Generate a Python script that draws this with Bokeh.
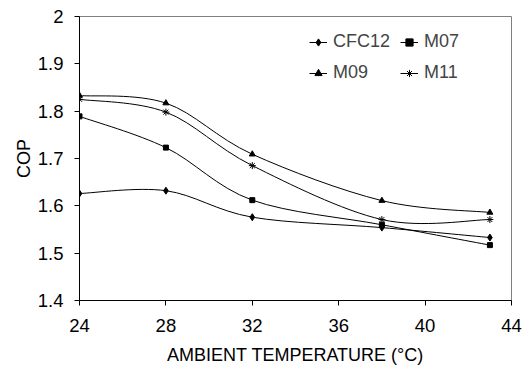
import numpy as np
from bokeh.plotting import figure
from bokeh.models import Legend, LegendItem, FixedTicker, Range1d
from bokeh.embed import file_html
from bokeh.resources import INLINE

# ---- data ----
temps = [24, 28, 32, 38, 43]
cfc12 = [1.626, 1.632, 1.576, 1.554, 1.533]
m07 = [1.789, 1.723, 1.612, 1.560, 1.517]
m09 = [1.833, 1.817, 1.709, 1.611, 1.586]
m11 = [1.825, 1.798, 1.685, 1.571, 1.571]

series_names = ["CFC12", "M07", "M09", "M11"]
x_ticks = [24, 28, 32, 36, 40, 44]
y_ticks = [1.4, 1.5, 1.6, 1.7, 1.8, 1.9, 2.0]
y_tick_labels = ["1.4", "1.5", "1.6", "1.7", "1.8", "1.9", "2"]

FONT = "Liberation Sans"

p = figure(width=525, height=367, output_backend="svg", toolbar_location=None,
           x_range=Range1d(24, 44), y_range=Range1d(1.4, 2.0),
           min_border_left=79, min_border_right=14, min_border_top=16, min_border_bottom=67)
p.background_fill_color = "white"
p.border_fill_color = "white"
p.outline_line_color = "#808080"
p.outline_line_width = 1
p.xgrid.visible = False
p.ygrid.visible = False

for ax in (p.xaxis[0], p.yaxis[0]):
    ax.axis_line_color = "black"
    ax.major_tick_line_color = "black"
    ax.major_tick_in = 0
    ax.major_tick_out = 5
    ax.minor_tick_line_color = None
    ax.major_label_text_font = FONT
    ax.major_label_text_font_size = "18.5px"
    ax.major_label_text_color = "black"
    ax.axis_label_text_font = FONT
    ax.axis_label_text_font_size = "18px"
    ax.axis_label_text_font_style = "normal"
    ax.axis_label_text_color = "black"

p.xaxis.ticker = FixedTicker(ticks=x_ticks)
p.yaxis.ticker = FixedTicker(ticks=y_ticks)
p.yaxis.major_label_overrides = dict(zip(y_ticks, y_tick_labels))
p.xaxis.axis_label = "AMBIENT TEMPERATURE (°C)"
p.yaxis.axis_label = "COP"
p.yaxis.major_label_standoff = 11
p.xaxis.major_label_standoff = 13
p.yaxis.axis_label_standoff = 1
p.xaxis.axis_label_standoff = 10


def smooth_controls(xs, ys):
    xs = np.asarray(xs, float)
    ys = np.asarray(ys, float)
    n = len(xs)
    x0, y0, x1, y1, cx0, cy0, cx1, cy1 = ([] for _ in range(8))
    for i in range(n - 1):
        im = max(i - 1, 0)
        ip2 = min(i + 2, n - 1)
        x0.append(xs[i]); y0.append(ys[i])
        x1.append(xs[i + 1]); y1.append(ys[i + 1])
        cx0.append(xs[i] + (xs[i + 1] - xs[im]) / 6.0)
        cy0.append(ys[i] + (ys[i + 1] - ys[im]) / 6.0)
        cx1.append(xs[i + 1] - (xs[ip2] - xs[i]) / 6.0)
        cy1.append(ys[i + 1] - (ys[ip2] - ys[i]) / 6.0)
    return dict(x0=x0, y0=y0, x1=x1, y1=y1, cx0=cx0, cy0=cy0, cx1=cx1, cy1=cy1)


markers = {"CFC12": ("diamond", 7), "M07": ("square", 5), "M09": ("triangle", 6), "M11": ("asterisk", 7)}
values = {"CFC12": cfc12, "M07": m07, "M09": m09, "M11": m11}

item_by_name = {}
for name in series_names:
    ys = values[name]
    c = smooth_controls(temps, ys)
    br = p.bezier(x0=c["x0"], y0=c["y0"], x1=c["x1"], y1=c["y1"],
                  cx0=c["cx0"], cy0=c["cy0"], cx1=c["cx1"], cy1=c["cy1"],
                  line_color="black", line_width=1)
    mk, sz = markers[name]
    sr = p.scatter(temps, ys, marker=mk, size=sz, fill_color="black", line_color="black", line_width=1)
    item_by_name[name] = LegendItem(label=name, renderers=[br, sr])

# legend fills column-major: order so rows read CFC12 M07 / M09 M11
legend_order = ["CFC12", "M09", "M07", "M11"]
legend = Legend(items=[item_by_name[n] for n in legend_order], ncols=2, location=(230, 217),
                border_line_color=None, background_fill_alpha=0,
                label_text_font=FONT, label_text_font_size="18px",
                glyph_width=18, glyph_height=20, label_height=20,
                label_standoff=6, spacing=10, padding=0, margin=0)
p.add_layout(legend, "center")

open("out.html", "w").write(file_html(p, INLINE))
